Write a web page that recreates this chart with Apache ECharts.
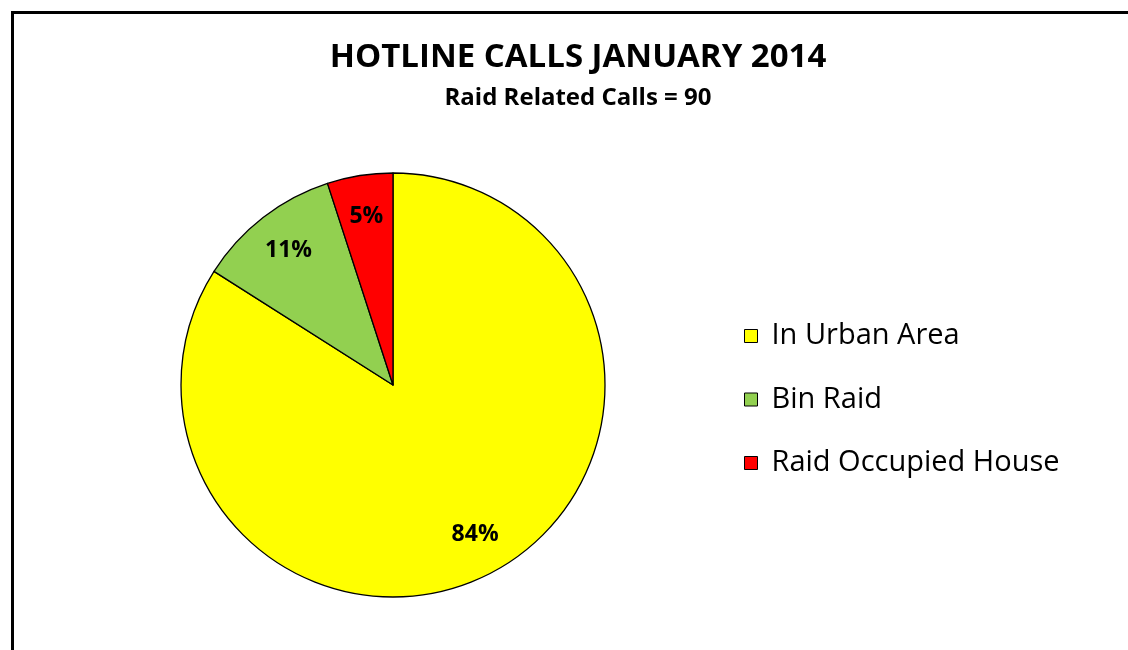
<!DOCTYPE html>
<html>
<head>
<meta charset="utf-8">
<script src="https://cdn.jsdelivr.net/npm/echarts@6/dist/echarts.min.js"></script>
<style>
  html, body { margin: 0; padding: 0; background: #fff; }
  #main { width: 1128px; height: 650px; }
</style>
</head>
<body>
<div id="main"></div>
<script>
// hotline calls, share of raid related calls (percent)
const categories = ['In Urban Area', 'Bin Raid', 'Raid Occupied House'];
const shares = [84, 11, 5];
const sliceColors = ['#ffff00', '#92d050', '#ff0000'];

const R = 212;
const pieData = categories.map((name, i) => ({
  name: name,
  value: shares[i],
  itemStyle: { color: sliceColors[i] }
}));

let myChart = echarts.init(document.getElementById('main'));
myChart.setOption({
  animation: false,
  graphic: [{
    type: 'rect',
    shape: { x: 12.5, y: 12.5, width: 1300, height: 800 },
    style: { fill: 'none', stroke: '#000', lineWidth: 3 },
    z: 10
  }],
  title: {
    text: 'HOTLINE CALLS JANUARY 2014',
    subtext: 'Raid Related Calls = 90',
    left: 573,
    top: 36,
    textAlign: 'center',
    itemGap: 12,
    textStyle: { fontFamily: 'Open Sans', fontWeight: 'bold', fontSize: 33, color: '#000' },
    subtextStyle: { fontFamily: 'Open Sans', fontWeight: 'bold', fontSize: 24, color: '#000' }
  },
  legend: {
    orient: 'vertical',
    left: 744,
    top: 321,
    padding: 0,
    data: categories,
    itemWidth: 13,
    itemHeight: 13,
    itemGap: 33.5,
    icon: 'rect',
    itemStyle: { borderColor: '#000', borderWidth: 1 },
    textStyle: { fontFamily: 'Open Sans', fontSize: 29, color: '#000', lineHeight: 30, padding: [0, 0, 0, 9] }
  },
  series: [
    {
      name: 'calls',
      type: 'pie',
      center: [393, 385],
      radius: [0, R],
      startAngle: 90,
      clockwise: true,
      silent: true,
      itemStyle: { borderColor: '#000', borderWidth: 1.3 },
      label: { show: false },
      labelLine: { show: false },
      data: pieData
    },
    {
      // transparent ring so the percent labels sit at ~0.8 of the radius
      name: 'labels',
      type: 'pie',
      center: [393, 385],
      radius: [R * 0.58, R],
      startAngle: 90,
      clockwise: true,
      silent: true,
      itemStyle: { color: 'rgba(0,0,0,0)', borderWidth: 0 },
      label: {
        show: true,
        position: 'inside',
        formatter: '{c}%',
        fontFamily: 'Open Sans',
        fontWeight: 'bold',
        fontSize: 23,
        color: '#000'
      },
      labelLine: { show: false },
      data: categories.map((name, i) => ({ name: name, value: shares[i] }))
    }
  ]
});
</script>
</body>
</html>
